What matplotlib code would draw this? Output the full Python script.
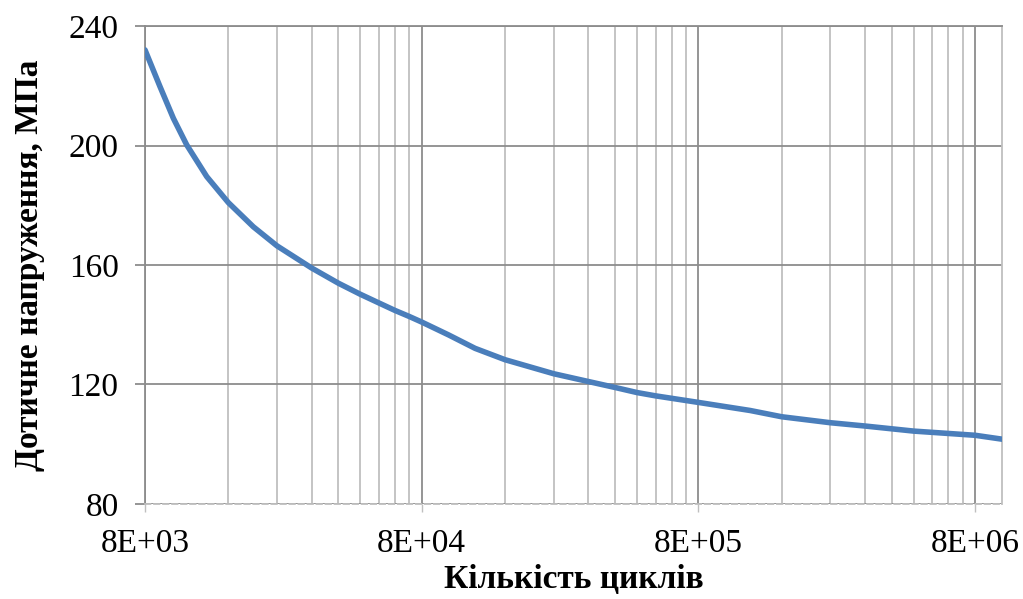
import matplotlib
matplotlib.use("Agg")
import matplotlib.pyplot as plt
from matplotlib.ticker import FixedLocator, NullFormatter

# Data
cycles = [8000, 9065, 10130, 11320, 13370, 16000, 19700, 24000, 32000, 40000,
          48000, 56000, 64000, 72000, 80000, 100000, 124700, 160000, 240000,
          320000, 400000, 480000, 560000, 800000, 1230000, 1600000, 2400000,
          3200000, 4800000, 8000000, 10000000]
stress = [232.0, 219.7, 209.1, 200.2, 189.6, 180.9, 172.8, 166.4, 159.0, 153.9,
          150.2, 147.3, 144.8, 142.8, 140.9, 136.6, 132.1, 128.3, 123.6,
          121.0, 119.0, 117.3, 116.2, 114.0, 111.3, 109.2, 107.2,
          106.1, 104.4, 103.0, 101.7]

x_major = [8e3, 8e4, 8e5, 8e6]
x_labels = ["8E+03", "8E+04", "8E+05", "8E+06"]
y_ticks = [80, 120, 160, 200, 240]

plt.rcParams['font.family'] = ['Liberation Serif', 'DejaVu Serif']

fig = plt.figure(figsize=(10.23, 5.99), dpi=100)
ax = fig.add_axes([145/1023, 1-504/599, (1002-145)/1023, (504-26)/599])

major_c = '#8c8c8c'
minor_c = '#bfbfbf'

ax.set_xscale('log')
ax.set_xlim(8e3, 1e7)
ax.set_ylim(80, 240)

ax.xaxis.set_major_locator(FixedLocator(x_major))
ax.set_xticklabels(x_labels)
minors = [m * k for m in x_major for k in range(2, 10)]
ax.xaxis.set_minor_locator(FixedLocator(minors))
ax.xaxis.set_minor_formatter(NullFormatter())
ax.set_yticks(y_ticks)

ax.grid(which='major', axis='both', color=major_c, linewidth=1.3)
ax.grid(which='minor', axis='x', color=minor_c, linewidth=1.3)
ax.set_axisbelow(True)

ax.plot(cycles, stress, color='#4a7ebb', linewidth=4.0, solid_capstyle='round',
        solid_joinstyle='round', zorder=3)

for s in ['left', 'top']:
    ax.spines[s].set_color(major_c)
    ax.spines[s].set_linewidth(1.3)
ax.spines['right'].set_color(minor_c)
ax.spines['right'].set_linewidth(1.3)
ax.spines['bottom'].set_color(minor_c)
ax.spines['bottom'].set_linewidth(1.3)
ax.spines['bottom'].set_linestyle((0, (3, 2)))

ax.tick_params(axis='y', which='major', length=7, width=1.3, color=major_c,
               labelsize=24, pad=12)
ax.tick_params(axis='x', which='major', length=6, width=1.0, color=minor_c,
               labelsize=24, pad=12)
ax.tick_params(axis='x', which='minor', length=0)

ax.set_xlabel("Кількість циклів", fontsize=24, fontweight='bold', labelpad=3)
ax.set_ylabel("Дотичне напруження, МПа", fontsize=24, fontweight='bold', labelpad=17)

fig.savefig("out.png", dpi=100)
